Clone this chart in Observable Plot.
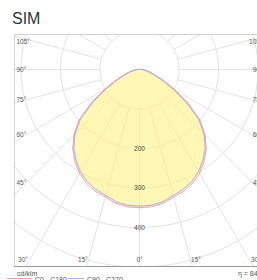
<!DOCTYPE html>
<html><head><meta charset="utf-8">
<script src="https://cdn.jsdelivr.net/npm/d3@7"></script>
<script src="https://cdn.jsdelivr.net/npm/@observablehq/plot@0.6"></script>
<style>
html,body{margin:0;padding:0;background:#fff;}
body{width:257px;height:280px;overflow:hidden;position:relative;font-family:"Liberation Sans",Arial,sans-serif;}
#title{position:absolute;left:12px;top:11px;font-size:16px;line-height:16px;color:#333;}
#chart{position:absolute;left:0;top:30px;width:280px;}
#chart svg{max-width:none !important;}
.small{position:absolute;font-size:7px;line-height:7px;color:#555;white-space:nowrap;}
.sw{position:absolute;height:0;border-top:1px solid;}
</style></head><body>
<div id="title">SIM</div>
<div id="chart"></div>
<div class="small" style="left:17px;top:270px">cd/klm</div>
<div class="small" style="left:238px;top:270px">η = 84%</div>
<div class="sw" style="left:7px;top:278px;width:25px;border-color:#f4a0a0"></div>
<div class="small" style="left:35px;top:276px">C0 - C180</div>
<div class="sw" style="left:68px;top:278px;width:16px;border-color:#a8a8ec"></div>
<div class="small" style="left:87px;top:276px">C90 - C270</div>
<script>
// gamma angles (degrees from nadir)
const angles = [0,5,10,15,20,25,30,35,40,45,50,55,60,65,70,75,80,85,90,95,100,105,110,115,120,125,130,135,140,145,150,155,160,165,170,175,180];
// luminous intensity, cd/klm
const c0c180  = [350,349,344,334,328,318,304,285,263,235,201,152,106,70,46,30,20,12,7,3,1,0,0,0,0,0,0,0,0,0,0,0,0,0,0,0,0];
const c90c270 = [346,345,340,330,323,313,299,280,259,231,195,143,97,62,39,25,16,9,5,2,1,0,0,0,0,0,0,0,0,0,0,0,0,0,0,0,0];
const gridRadii = [100,200,300,400,500,600];
const radiusLabels = [200,300,400];
const sideAngles = [105,90,75,60,45];
const bottomAngles = [-30,-15,0,15,30];
const spokeAngles = d3.range(0,360,15);

const k = 100/39.5; // cd/klm per pixel
const W = 280, H = 240, mL = 14, mR = 16, mT = 4, mB = 4;
const cx = 139, cy = 39;
const xDomain = [(mL-cx)*k, (W-mR-cx)*k];
const yDomain = [(mT-cy)*k, (H-mB-cy)*k];
const rad = a => a*Math.PI/180;

function curve(vals){
  const pts = [];
  angles.forEach((a,i)=>pts.push({x: vals[i]*Math.sin(rad(a)), y: vals[i]*Math.cos(rad(a))}));
  for (let i=angles.length-1;i>=0;i--) pts.push({x: -vals[i]*Math.sin(rad(angles[i])), y: vals[i]*Math.cos(rad(angles[i]))});
  return pts;
}
const red = curve(c0c180), blue = curve(c90c270);
const circles = gridRadii.flatMap(r => d3.range(0,361,2).map(a => ({r, x: r*Math.sin(rad(a)), y: r*Math.cos(rad(a))})));
const spokes = spokeAngles.map(a => ({x1: 100*Math.sin(rad(a)), y1: 100*Math.cos(rad(a)), x2: 900*Math.sin(rad(a)), y2: 900*Math.cos(rad(a))}));

const d = 113*k;
const clampY = y => Math.max(y, yDomain[0] + 7*k);
const leftLab = sideAngles.map(a => ({t: a+"°", x: xDomain[0]+2*k, y: clampY(d*Math.cos(rad(a))/Math.sin(rad(a)))}));
const rightLab = sideAngles.map(a => ({t: a+"°", x: xDomain[1]-2*k, y: clampY(d*Math.cos(rad(a))/Math.sin(rad(a)))}));
const bottomLab = bottomAngles.map(a => ({t: Math.abs(a)+"°", x: Math.min(Math.max(211*k*Math.tan(rad(a)), xDomain[0]+8.5*k), xDomain[1]-8.5*k), y: yDomain[1]-7*k}));

const font = {fontSize: 6.5, fill: "#555", fontFamily: "Liberation Sans, Arial, sans-serif"};
const chart = Plot.plot({
  width: W, height: H, marginLeft: mL, marginRight: mR, marginTop: mT, marginBottom: mB,
  x: {domain: xDomain, axis: null},
  y: {domain: yDomain, reverse: true, axis: null},
  style: {background: "transparent", fontFamily: "Liberation Sans, Arial, sans-serif", maxWidth: "none"},
  marks: [
    Plot.line(circles, {x: "x", y: "y", z: "r", stroke: "#e2e2e2", strokeWidth: 1, clip: true}),
    Plot.link(spokes, {x1: "x1", y1: "y1", x2: "x2", y2: "y2", stroke: "#e2e2e2", strokeWidth: 1, clip: true}),
    Plot.line(red, {x: "x", y: "y", fill: "#fff07a", fillOpacity: 0.35, stroke: "none", clip: true}),
    Plot.line(blue, {x: "x", y: "y", fill: "#fff07a", fillOpacity: 0.35, stroke: "none", clip: true}),
    Plot.line(red, {x: "x", y: "y", stroke: "#f4a0a0", strokeWidth: 1, clip: true}),
    Plot.line(blue, {x: "x", y: "y", stroke: "#a8a8ec", strokeWidth: 1, clip: true}),
    Plot.frame({stroke: "#d0d0d0"}),
    Plot.ruleY([yDomain[1]], {stroke: "#999"}),
    Plot.text(radiusLabels, {x: 0, y: d => d, text: d => String(d), ...font, fill: "#444"}),
    Plot.text(leftLab, {x: "x", y: "y", text: "t", textAnchor: "start", ...font}),
    Plot.text(rightLab, {x: "x", y: "y", text: "t", textAnchor: "end", ...font}),
    Plot.text(bottomLab, {x: "x", y: "y", text: "t", ...font})
  ]
});
document.getElementById("chart").appendChild(chart);
</script>
</body></html>
